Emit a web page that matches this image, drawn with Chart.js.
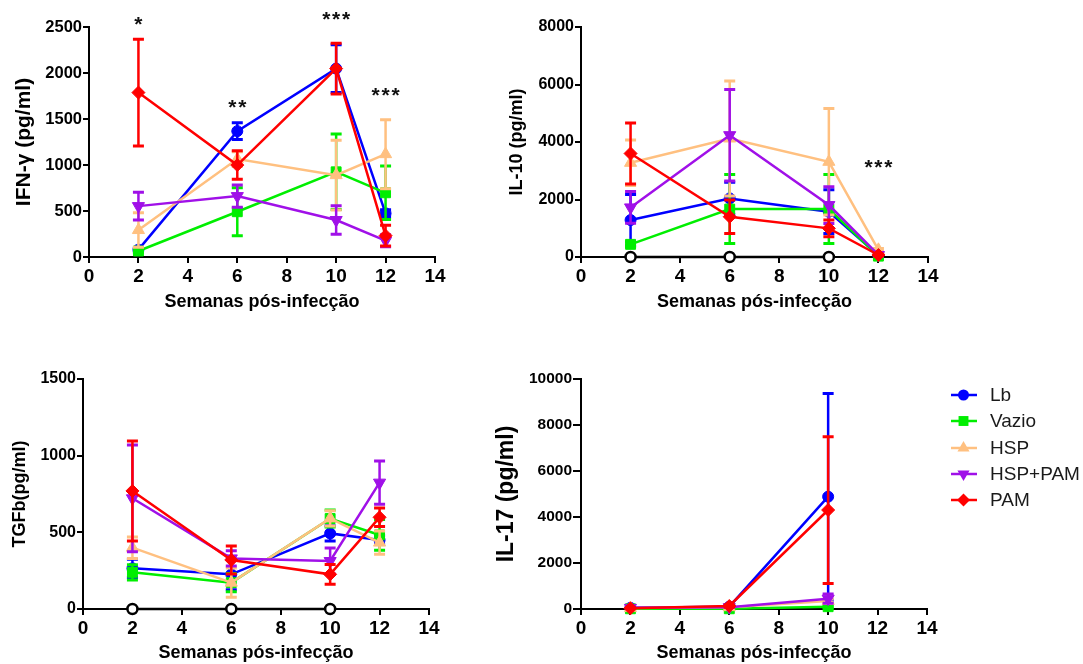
<!DOCTYPE html>
<html><head><meta charset="utf-8">
<script src="https://cdn.jsdelivr.net/npm/chart.js@4.4.1/dist/chart.umd.min.js"></script>
<style>
html,body{margin:0;padding:0;background:#fff;width:1083px;height:664px;overflow:hidden;position:relative;}
canvas.panel{position:absolute;}
#legend{position:absolute;left:950px;top:382px;font:19px 'Liberation Sans',Arial,sans-serif;color:#1a1a1a;}
.row{display:flex;align-items:center;height:26.3px;white-space:nowrap;}
.row canvas{margin-right:12px;}
</style></head><body>
<canvas class="panel" id="c1" width="460" height="330" style="left:0px;top:0px"></canvas>
<canvas class="panel" id="c2" width="460" height="330" style="left:490px;top:0px"></canvas>
<canvas class="panel" id="c3" width="460" height="324" style="left:0px;top:340px"></canvas>
<canvas class="panel" id="c4" width="460" height="324" style="left:490px;top:340px"></canvas>
<div id="legend"></div>
<script>
// ---------------- DATA ----------------
const seriesNames = ['Lb', 'Vazio', 'HSP', 'HSP+PAM', 'PAM'];
const weeks = [2, 6, 10, 12];
const weeksIL17 = [2, 6, 10];
const controlWeeks = [2, 6, 10];
const controlValues = [0, 0, 0];

// IFN-γ (pg/ml): rows = Lb, Vazio, HSP, HSP+PAM, PAM
const ifnMean = [
  [80, 1368, 2048, 474],
  [65, 492, 926, 698],
  [293, 1065, 890, 1118],
  [553, 662, 402, 177],
  [1787, 999, 2048, 232]
];
const ifnSem = [
  [20, 90, 260, 40],
  [20, 260, 410, 290],
  [188, 80, 380, 375],
  [150, 120, 155, 65],
  [580, 155, 275, 112]
];
const ifnStarText = ['*', '**', '***', '***'];
const ifnStarX = [2, 6, 10, 12];
const ifnStarY = [2545, 1640, 2600, 1770];

// IL-10 (pg/ml)
const il10Mean = [
  [1285, 2038, 1575, 60],
  [440, 1667, 1667, 30],
  [3276, 4122, 3311, 250],
  [1725, 4237, 1806, 70],
  [3600, 1401, 996, 70]
];
const il10Sem = [
  [890, 560, 760, 30],
  [80, 1200, 1200, 20],
  [790, 2000, 1850, 50],
  [550, 1590, 640, 30],
  [1060, 580, 290, 30]
];
const il10StarText = ['***'];
const il10StarX = [12];
const il10StarY = [3170];

// TGFb (pg/ml)
const tgfMean = [
  [265, 226, 493, 450],
  [239, 172, 590, 483],
  [400, 172, 591, 433],
  [722, 330, 313, 824],
  [770, 320, 226, 598]
];
const tgfSem = [
  [60, 100, 50, 30],
  [50, 60, 55, 100],
  [70, 96, 50, 76],
  [348, 50, 85, 141],
  [326, 91, 65, 60]
];

// IL-17 (pg/ml)
const il17Mean = [
  [50, 100, 4884],
  [10, 10, 100],
  [40, 80, 350],
  [50, 80, 450],
  [30, 130, 4304]
];
const il17Sem = [
  [20, 30, 4490],
  [5, 5, 60],
  [10, 20, 100],
  [15, 20, 200],
  [10, 40, 3190]
];

// ---------------- STYLE ----------------
const FONT = "'Liberation Sans', Arial, Helvetica, sans-serif";
const seriesColors = ['#0000FF', '#00EE00', '#FFC080', '#A010E8', '#FF0000'];
const seriesShapes = ['circle', 'rect', 'triangle', 'triangle', 'rectRot'];
const seriesRot = [0, 0, 0, 180, 0];
const seriesRadius = [5.5, 7, 7, 7, 6.5];
const seriesOrder = [4, 3, 2, 1, 0];

const errorBarPlugin = {
  id: 'errorBars',
  beforeDatasetDraw(chart, args) {
    const ds = chart.data.datasets[args.index];
    if (!ds.sem) return;
    const xs = chart.scales.x, ys = chart.scales.y, ctx = chart.ctx;
    ctx.save();
    ctx.strokeStyle = ds.borderColor;
    ctx.lineCap = 'butt';
    ds.data.forEach((p, i) => {
      const e = ds.sem[i];
      if (!e) return;
      const x = xs.getPixelForValue(p.x);
      const yh = ys.getPixelForValue(p.y + e);
      const yl = ys.getPixelForValue(Math.max(0, p.y - e));
      ctx.lineWidth = 2.5;
      ctx.beginPath(); ctx.moveTo(x, yl); ctx.lineTo(x, yh); ctx.stroke();
      ctx.lineWidth = 3;
      ctx.beginPath();
      ctx.moveTo(x - 5.5, yh); ctx.lineTo(x + 5.5, yh);
      ctx.moveTo(x - 5.5, yl); ctx.lineTo(x + 5.5, yl);
      ctx.stroke();
    });
    ctx.restore();
  }
};

const starPlugin = {
  id: 'stars',
  afterDraw(chart, args, opts) {
    if (!opts || !opts.text) return;
    const ctx = chart.ctx, xs = chart.scales.x, ys = chart.scales.y;
    ctx.save();
    ctx.fillStyle = '#111';
    ctx.font = 'bold 21px ' + FONT;
    ctx.textAlign = 'center';
    ctx.textBaseline = 'alphabetic';
    opts.text.forEach((t, i) => {
      const spaced = t.split('').join('\u200A');
      ctx.fillText(spaced, xs.getPixelForValue(opts.x[i]), ys.getPixelForValue(opts.y[i]) + 0.38 * 21);
    });
    ctx.restore();
  }
};

function buildDatasets(xVals, means, sems, withControl) {
  const sets = means.map((row, s) => ({
    label: seriesNames[s],
    data: row.map((v, i) => ({ x: xVals[i], y: v })),
    sem: sems[s],
    borderColor: seriesColors[s],
    backgroundColor: seriesColors[s],
    pointBackgroundColor: seriesColors[s],
    pointBorderColor: seriesColors[s],
    pointStyle: seriesShapes[s],
    rotation: seriesRot[s],
    pointRadius: seriesRadius[s],
    pointBorderWidth: 1,
    borderWidth: 2.5,
    tension: 0,
    order: seriesOrder[s],
    clip: false
  }));
  if (withControl) {
    sets.push({
      label: 'Controle',
      data: controlValues.map((v, i) => ({ x: controlWeeks[i], y: v })),
      borderColor: '#000',
      backgroundColor: '#fff',
      pointBackgroundColor: '#fff',
      pointBorderColor: '#000',
      pointStyle: 'circle',
      pointRadius: 5,
      pointBorderWidth: 2.5,
      borderWidth: 2.5,
      order: 6,
      clip: false
    });
  }
  return sets;
}

function makePanel(id, L) {
  const canvas = document.getElementById(id);
  const W = canvas.width, H = canvas.height;
  const halfY = L.ytitleSize * 1.2 / 2;
  const halfX = 18 * 1.2 / 2;
  const padLeft = L.titleX - L.cx - halfY;
  const yW = L.left - L.cx - padLeft;
  const padBottom = L.cy + H - (L.titleY + halfX);
  const xH = L.cy + H - padBottom - L.bottom;
  new Chart(canvas, {
    type: 'line',
    data: { datasets: buildDatasets(L.xVals, L.means, L.sems, L.control) },
    options: {
      responsive: false,
      animation: false,
      devicePixelRatio: 1,
      layout: { padding: { left: padLeft, top: L.top - L.cy, right: L.cx + W - L.right, bottom: padBottom } },
      plugins: { legend: { display: false }, tooltip: { enabled: false },
                 stars: L.stars || {} },
      scales: {
        x: {
          type: 'linear', min: 0, max: 14,
          border: { display: true, color: '#000', width: 2 },
          grid: { display: true, drawOnChartArea: false, drawTicks: true, tickLength: 6, color: '#000', lineWidth: 2 },
          ticks: { stepSize: 2, padding: 2, color: '#000', font: { family: FONT, size: 19, weight: 'bold' }, maxRotation: 0,
                   callback: v => String(v) },
          title: { display: true, text: 'Semanas pós-infecção', color: '#000', padding: 0,
                   font: { family: FONT, size: 18, weight: 'bold' } },
          afterFit: s => { s.height = xH; }
        },
        y: {
          type: 'linear', min: 0, max: L.ymax,
          border: { display: true, color: '#000', width: 2 },
          grid: { display: true, drawOnChartArea: false, drawTicks: true, tickLength: L.ytick, color: '#000', lineWidth: 2 },
          ticks: { stepSize: L.ystep, padding: 1, color: '#000', font: { family: FONT, size: L.yfont, weight: 'bold' },
                   callback: v => String(v) },
          title: { display: true, text: L.ytitle, color: '#000', padding: 0,
                   font: { family: FONT, size: L.ytitleSize, weight: 'bold' } },
          afterFit: s => { s.width = yW; }
        }
      }
    },
    plugins: [errorBarPlugin, starPlugin]
  });
}

makePanel('c1', { cx: 0, cy: 0, left: 89, top: 27, right: 435, bottom: 257, titleX: 24, titleY: 302,
  xVals: weeks, means: ifnMean, sems: ifnSem, control: false, ymax: 2500, ystep: 500,
  ytitle: 'IFN-γ (pg/ml)', ytitleSize: 21, yfont: 16.5, ytick: 6,
  stars: { text: ifnStarText, x: ifnStarX, y: ifnStarY } });
makePanel('c2', { cx: 490, cy: 0, left: 581, top: 27, right: 928, bottom: 257, titleX: 517, titleY: 302,
  xVals: weeks, means: il10Mean, sems: il10Sem, control: true, ymax: 8000, ystep: 2000,
  ytitle: 'IL-10 (pg/ml)', ytitleSize: 18, yfont: 16, ytick: 6,
  stars: { text: il10StarText, x: il10StarX, y: il10StarY } });
makePanel('c3', { cx: 0, cy: 340, left: 83, top: 379, right: 429, bottom: 609, titleX: 20, titleY: 653,
  xVals: weeks, means: tgfMean, sems: tgfSem, control: true, ymax: 1500, ystep: 500,
  ytitle: 'TGFb(pg/ml)', ytitleSize: 18, yfont: 16, ytick: 6 });
makePanel('c4', { cx: 490, cy: 340, left: 581, top: 379, right: 927, bottom: 609, titleX: 507, titleY: 653,
  xVals: weeksIL17, means: il17Mean, sems: il17Sem, control: false, ymax: 10000, ystep: 2000,
  ytitle: 'IL-17 (pg/ml)', ytitleSize: 23, yfont: 15.5, ytick: 8 });

// ---------------- LEGEND ----------------
const legend = document.getElementById('legend');
seriesNames.forEach((name, s) => {
  const row = document.createElement('div'); row.className = 'row';
  const ic = document.createElement('canvas'); ic.width = 28; ic.height = 18;
  const c = ic.getContext('2d');
  c.strokeStyle = seriesColors[s]; c.fillStyle = seriesColors[s]; c.lineWidth = 2.5;
  c.beginPath(); c.moveTo(1, 9); c.lineTo(27, 9); c.stroke();
  const cx = 13.5, cy = 9, r = seriesRadius[s];
  c.beginPath();
  if (seriesShapes[s] === 'circle') { c.arc(cx, cy, r, 0, Math.PI * 2); }
  else if (seriesShapes[s] === 'rect') { const h = r * Math.SQRT1_2; c.rect(cx - h, cy - h, 2 * h, 2 * h); }
  else if (seriesShapes[s] === 'rectRot') { c.moveTo(cx, cy - r); c.lineTo(cx + r, cy); c.lineTo(cx, cy + r); c.lineTo(cx - r, cy); c.closePath(); }
  else if (seriesRot[s] === 180) { c.moveTo(cx - r * 0.866, cy - r / 2); c.lineTo(cx + r * 0.866, cy - r / 2); c.lineTo(cx, cy + r); c.closePath(); }
  else { c.moveTo(cx - r * 0.866, cy + r / 2); c.lineTo(cx + r * 0.866, cy + r / 2); c.lineTo(cx, cy - r); c.closePath(); }
  c.fill();
  const sp = document.createElement('span'); sp.textContent = name;
  row.appendChild(ic); row.appendChild(sp); legend.appendChild(row);
});
</script>
</body></html>
